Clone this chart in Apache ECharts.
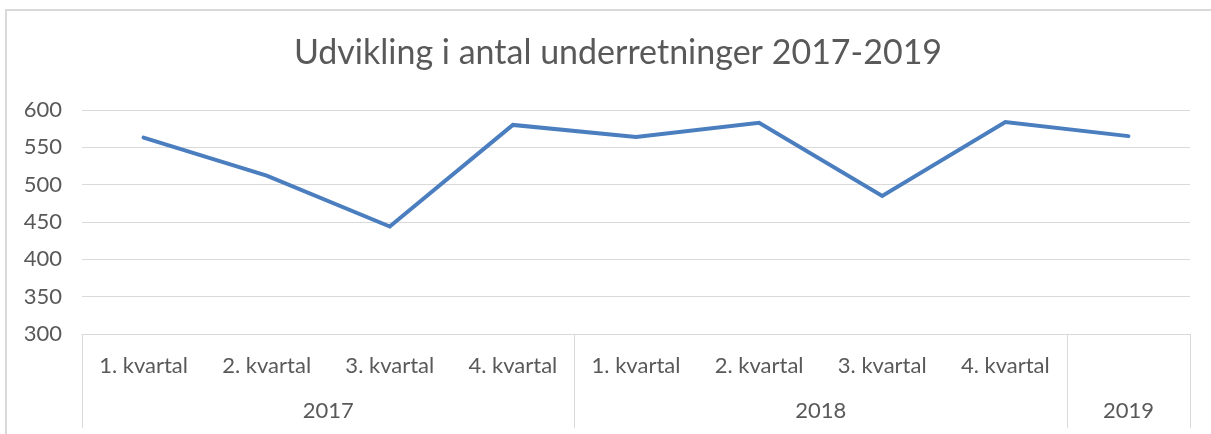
<!DOCTYPE html>
<html>
<head>
<meta charset="utf-8">
<script src="https://cdn.jsdelivr.net/npm/echarts@6/dist/echarts.min.js"></script>
<style>
  html, body { margin: 0; padding: 0; background: #fff; }
  #chart { width: 1211px; height: 434px; }
</style>
</head>
<body>
<div id="chart"></div>
<script>
const titleText = 'Udvikling i antal underretninger 2017-2019';
const quarterLabels = ['1. kvartal', '2. kvartal', '3. kvartal', '4. kvartal',
                       '1. kvartal', '2. kvartal', '3. kvartal', '4. kvartal', ''];
const years = ['2017', '2018', '2019'];
const yearSpans = [4, 4, 1];
const values = [563, 512, 444, 580, 564, 583, 485, 584, 565];
const yMin = 300, yMax = 600, yStep = 50;

// group boundaries (category index where each year starts)
const groupStarts = [];
let acc = 0;
yearSpans.forEach(s => { groupStarts.push(acc); acc += s; });
// year label centres on a 0..N value scale
const yearCentres = {};
acc = 0;
yearSpans.forEach((s, i) => { yearCentres[(acc + s / 2).toFixed(1)] = years[i]; acc += s; });

const FONT = 'Lato';
const TXT = '#595959';
const GRID = '#d9d9d9';

const chart = echarts.init(document.getElementById('chart'), null, { renderer: 'canvas' });
chart.setOption({
  animation: false,
  backgroundColor: '#ffffff',
  title: {
    text: titleText,
    left: 613,
    top: 31,
    textAlign: 'center',
    textStyle: { fontFamily: FONT, fontSize: 34, fontWeight: 'normal', color: TXT }
  },
  graphic: [{
    type: 'rect',
    shape: { x: 6, y: 10, width: 1300, height: 600 },
    style: { fill: 'none', stroke: GRID, lineWidth: 2 },
    silent: true
  }],
  grid: { left: 82, right: 21, top: 110, bottom: 100 },
  xAxis: [{
    type: 'category',
    data: quarterLabels,
    boundaryGap: true,
    position: 'bottom',
    axisLine: { show: true, lineStyle: { color: GRID, width: 1 } },
    axisTick: {
      show: true,
      length: 94,
      interval: (idx) => groupStarts.indexOf(idx) >= 0,
      lineStyle: { color: GRID, width: 1 }
    },
    axisLabel: {
      interval: 0,
      margin: 21,
      fontFamily: FONT, fontSize: 22, color: TXT
    },
    splitLine: { show: false }
  }, {
    type: 'value',
    min: 0,
    max: quarterLabels.length,
    interval: 0.5,
    position: 'bottom',
    axisLine: { show: false },
    axisTick: { show: false },
    splitLine: { show: false },
    axisLabel: {
      margin: 66,
      showMinLabel: true, showMaxLabel: true,
      fontFamily: FONT, fontSize: 22, color: TXT,
      formatter: (v) => yearCentres[Number(v).toFixed(1)] || ''
    }
  }],
  yAxis: {
    type: 'value',
    min: yMin, max: yMax, interval: yStep,
    axisLine: { show: false },
    axisTick: { show: false },
    axisLabel: { margin: 20, fontFamily: FONT, fontSize: 22, color: TXT },
    splitLine: { show: true, lineStyle: { color: GRID, width: 1 } }
  },
  series: [{
    type: 'line',
    xAxisIndex: 0,
    data: values,
    symbol: 'none',
    lineStyle: { color: '#4a7ebf', width: 4, cap: 'round', join: 'miter' },
    itemStyle: { color: '#4a7ebf' }
  }]
});
</script>
</body>
</html>
